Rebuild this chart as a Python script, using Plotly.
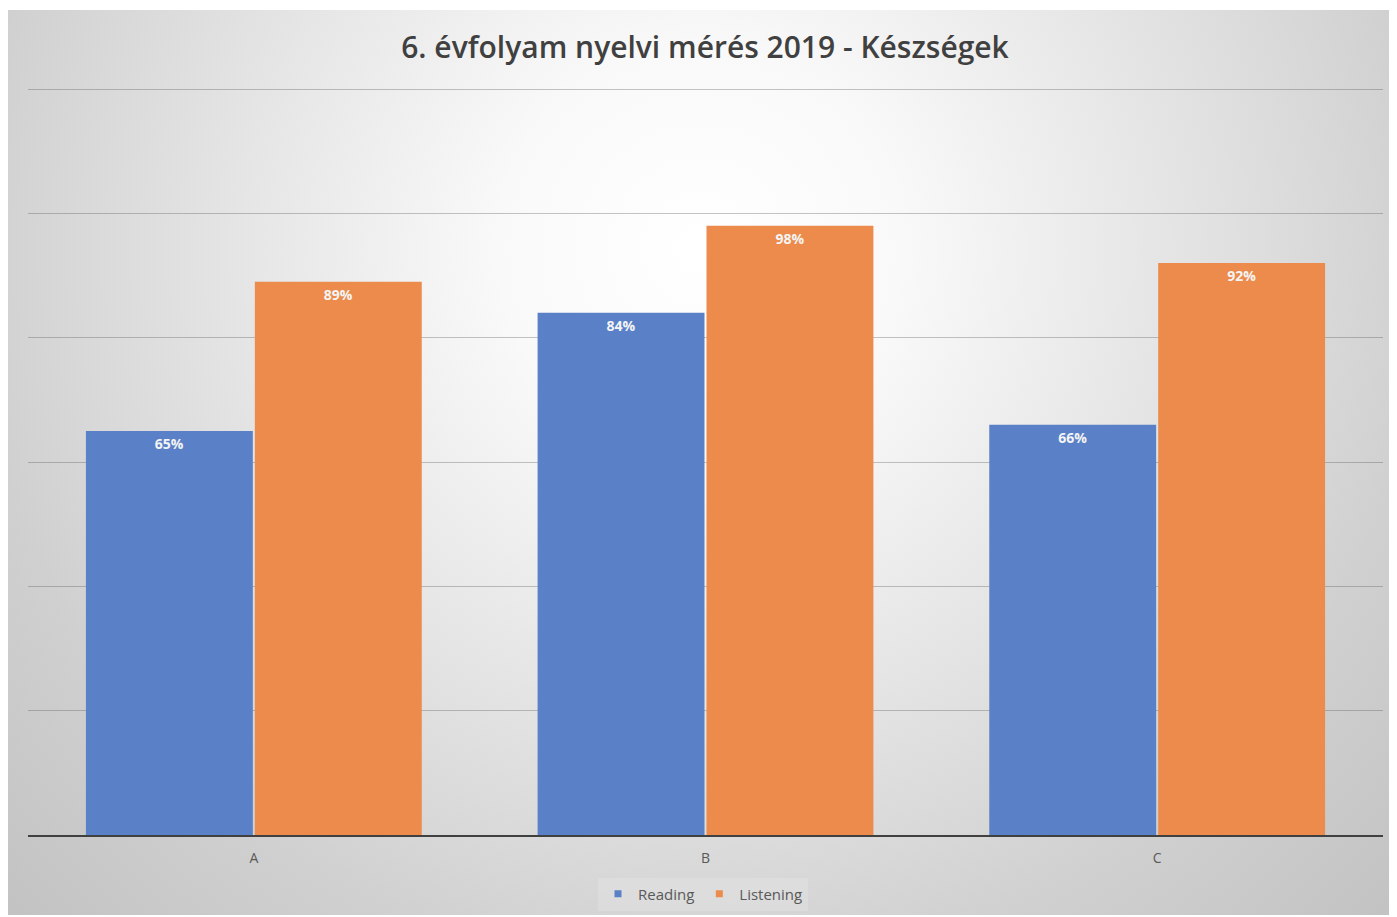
import plotly.graph_objects as go

categories = ["A", "B", "C"]
reading = [65, 84, 66]
listening = [89, 98, 92]
series_names = ["Reading", "Listening"]
title_text = "6. évfolyam nyelvi mérés 2019 - Készségek"

# The page body has an 8px margin; figure covers page px 8..1397 x 8..917
OFF = 8
FW, FH = 1397 - OFF, 917 - OFF
BLUE = "#5A80C8"
ORANGE = "#EC8B4B"
FONT = "Open Sans"
YMAX = 121


def fx(px):
    return (px - OFF) / FW


def fy(py):
    return 1 - (py - OFF) / FH


fig = go.Figure()

# background gradient panel (decoration), axes in page pixels
cx, cy, R = 700, 250, 1000
fig.add_trace(go.Scatter(
    x=[cx - R, cx + R, cx + R, cx - R, cx - R],
    y=[cy - R, cy - R, cy + R, cy + R, cy - R],
    fill="toself", mode="none", hoverinfo="skip", showlegend=False,
    fillgradient=dict(type="radial", colorscale=[
        [0.0, "#ffffff"], [0.2, "#f9f9f9"], [0.45, "#e6e6e6"], [0.63, "#d8d8d8"],
        [0.73, "#d0d0d0"], [1.0, "#c0c0c0"]]),
    xaxis="x", yaxis="y",
))

label_font = dict(color="#f4f4f4", size=14, family=FONT, weight="bold")
fig.add_trace(go.Bar(
    x=categories, y=reading, name=series_names[0], marker=dict(color=BLUE, line=dict(width=0)),
    text=[f"{v}%" for v in reading], textposition="inside", insidetextanchor="end",
    textfont=label_font, showlegend=False, xaxis="x2", yaxis="y2",
))
fig.add_trace(go.Bar(
    x=categories, y=listening, name=series_names[1], marker=dict(color=ORANGE, line=dict(width=0)),
    text=[f"{v}%" for v in listening], textposition="inside", insidetextanchor="end",
    textfont=label_font, showlegend=False, xaxis="x2", yaxis="y2",
))
# legend entries
for name, col in zip(series_names, [BLUE, ORANGE]):
    fig.add_trace(go.Scatter(x=[None], y=[None], mode="markers", name=name,
                             marker=dict(symbol="square", size=7, color=col),
                             xaxis="x2", yaxis="y2"))

px_per_unit = (835 - 89) / 120
top_px = 835 - YMAX * px_per_unit

fig.update_layout(
    width=FW, height=FH,
    margin=dict(l=0, r=0, t=0, b=0),
    paper_bgcolor="white", plot_bgcolor="rgba(0,0,0,0)",
    font=dict(family=FONT, color="#595959", size=14),
    title=dict(text=title_text, x=fx(705), xanchor="center", y=fy(47), yanchor="middle",
               font=dict(size=30, color="#404040", family=FONT, weight=600)),
    barmode="group", bargap=0.252, bargroupgap=0.012,
    xaxis=dict(domain=[0, fx(1396)], range=[8, 1396], visible=False, fixedrange=True),
    yaxis=dict(domain=[fy(915), fy(10)], range=[915, 10], visible=False, fixedrange=True),
    xaxis2=dict(domain=[fx(28), fx(1383)], anchor="y2", showgrid=False, showline=True,
                linecolor="#404040", linewidth=2, ticks="", ticklabelstandoff=9,
                tickfont=dict(size=14, color="#595959")),
    yaxis2=dict(domain=[fy(835), fy(top_px)], anchor="x2", range=[0, YMAX], dtick=20,
                showgrid=True, gridcolor="rgba(90,90,90,0.35)", gridwidth=1,
                showticklabels=False, zeroline=False, ticks=""),
    legend=dict(orientation="h", x=fx(703), xanchor="center", y=fy(894), yanchor="middle",
                bgcolor="rgba(255,255,255,0.15)", font=dict(size=15, color="#595959"),
                itemwidth=30, tracegroupgap=0),
)

fig.write_html("out.html")
